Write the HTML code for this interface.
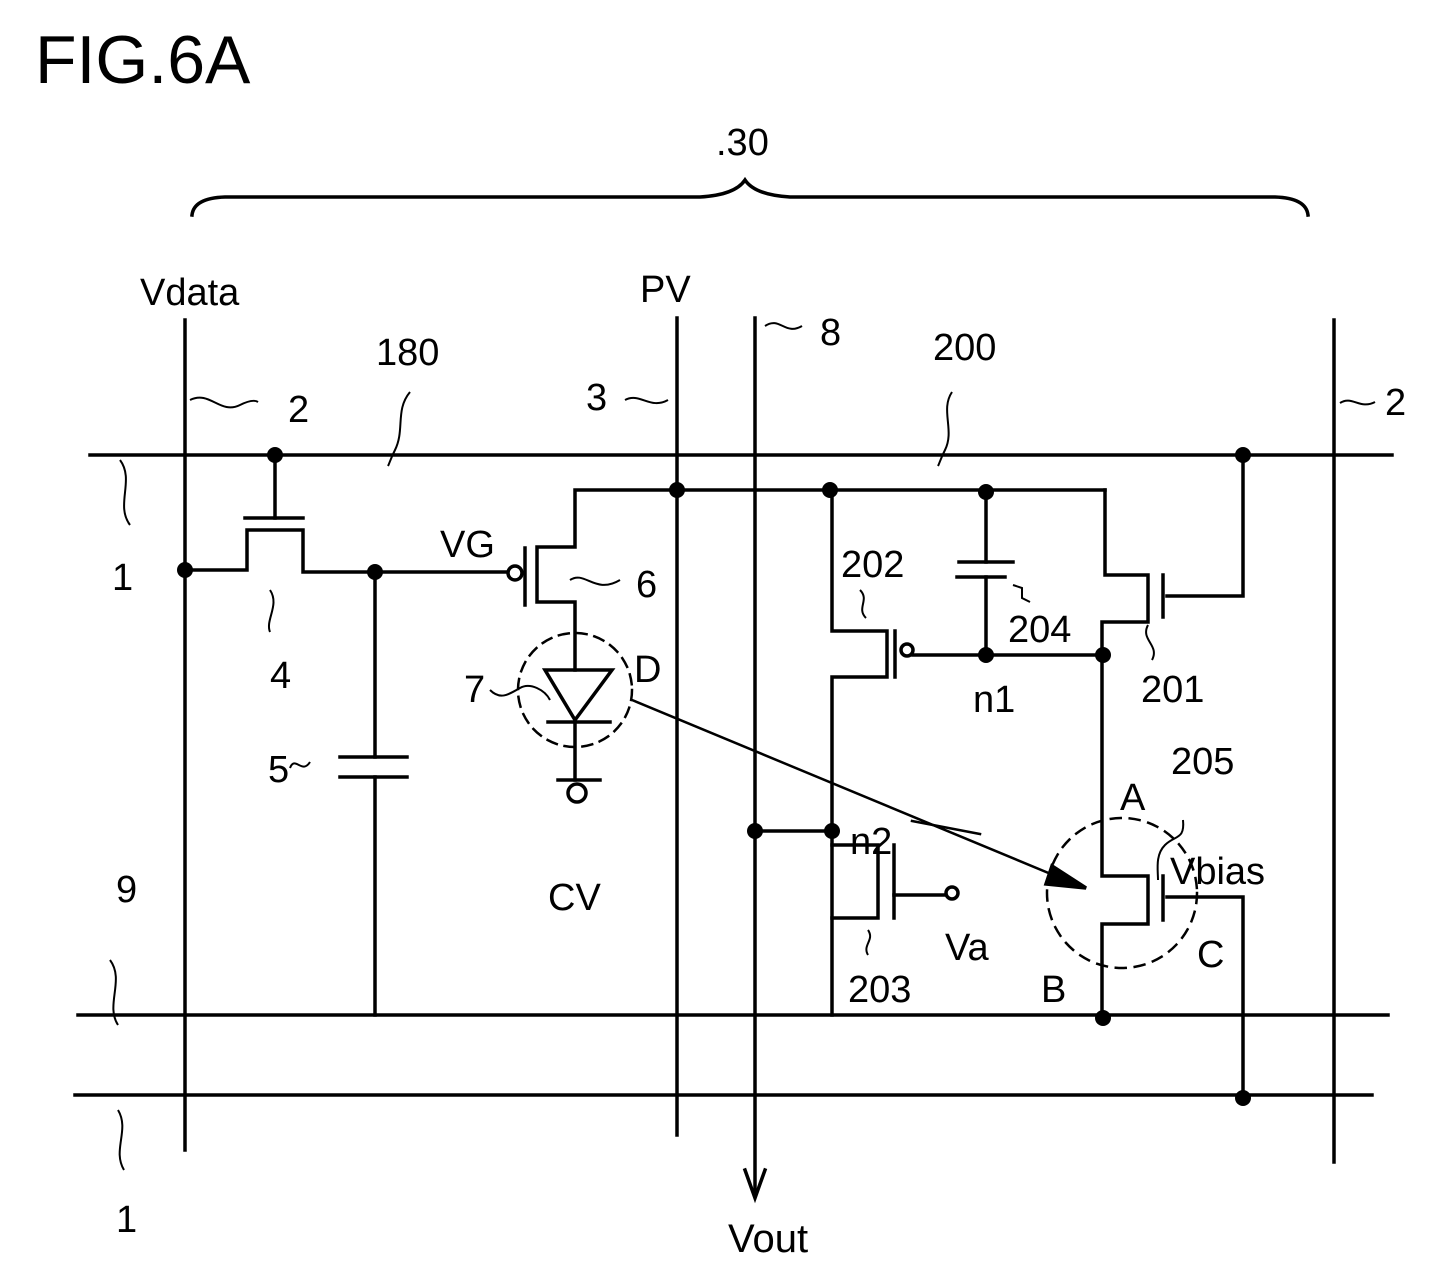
<!DOCTYPE html>
<html><head><style>
html,body{margin:0;padding:0;background:#fff;}
svg{display:block;}
text{font-family:"Liberation Sans",Arial,sans-serif;fill:#000;}
</style></head><body>
<svg width="1453" height="1264" viewBox="0 0 1453 1264" xmlns="http://www.w3.org/2000/svg">
<g stroke="#000" stroke-width="3.5" fill="none" stroke-linecap="square">
<path d="M192,215 Q194,198 225,197 L700,197 Q735,195 745,180 Q755,195 790,197 L1275,197 Q1306,198 1308,215"/>
<line x1="90" y1="455" x2="1392" y2="455"/>
<line x1="78" y1="1015" x2="1388" y2="1015"/>
<line x1="75" y1="1095" x2="1372" y2="1095"/>
<line x1="185" y1="320" x2="185" y2="1150"/>
<line x1="677" y1="318" x2="677" y2="1135"/>
<line x1="755" y1="318" x2="755" y2="1195"/>
<path d="M745,1170 L755,1198 L765,1170"/>
<line x1="1334" y1="320" x2="1334" y2="1162"/>
<line x1="275" y1="455" x2="275" y2="518"/>
<line x1="245" y1="518" x2="303" y2="518"/>
<path d="M185,570 L247,570 L247,530 L303,530 L303,572 L507,572"/>
<line x1="375" y1="572" x2="375" y2="757"/>
<line x1="340" y1="757" x2="407" y2="757"/>
<line x1="340" y1="777" x2="407" y2="777"/>
<line x1="375" y1="777" x2="375" y2="1015"/>
<circle cx="515" cy="573" r="7"/>
<line x1="525" y1="548" x2="525" y2="605"/>
<path d="M1105,490 L575,490 L575,547 L537,547 L537,602 L575,602 L575,670"/>
<path d="M545,670 L612,670 L575,720 Z"/>
<line x1="548" y1="722" x2="610" y2="722"/>
<line x1="575" y1="722" x2="575" y2="780"/>
<line x1="558" y1="780" x2="600" y2="780"/>
<circle cx="577" cy="793" r="9"/>
<circle cx="575" cy="690" r="57" stroke-dasharray="10,8" stroke-width="2.5"/>
<path d="M832,490 L832,631 L887,631 L887,677 L832,677 L832,1015"/>
<line x1="895" y1="631" x2="895" y2="677"/>
<circle cx="907" cy="650" r="6"/>
<line x1="913" y1="655" x2="1105" y2="655"/>
<line x1="986" y1="490" x2="986" y2="562"/>
<line x1="959" y1="562" x2="1013" y2="562"/>
<line x1="957" y1="577" x2="1005" y2="577"/>
<line x1="986" y1="577" x2="986" y2="655"/>
<path d="M1105,490 L1105,575 L1148,575 L1148,622 L1102,622 L1102,876 L1148,876 L1148,924 L1102,924 L1102,1015"/>
<line x1="1163" y1="575" x2="1163" y2="617"/>
<path d="M1167,596 L1243,596 L1243,455"/>
<line x1="1163" y1="876" x2="1163" y2="920"/>
<path d="M1167,897 L1243,897 L1243,1095"/>
<circle cx="1122" cy="893" r="75" stroke-dasharray="10,9" stroke-width="2.5"/>
<line x1="755" y1="831" x2="832" y2="831"/>
<path d="M832,845 L878,845 L878,918 L832,918"/>
<line x1="894" y1="845" x2="894" y2="918"/>
<line x1="894" y1="895" x2="945" y2="895"/>
<circle cx="952" cy="893" r="6"/>
<line x1="632" y1="700" x2="1075" y2="884" stroke-width="2.5"/>
<path d="M1052,866 L1086,888 L1046,884 Z" fill="#000"/>
<path d="M912,821 L980,834" stroke-width="2.5"/>
</g>
<g fill="#000">
<circle cx="275" cy="455" r="8"/><circle cx="185" cy="570" r="8"/><circle cx="375" cy="572" r="8"/>
<circle cx="677" cy="490" r="8"/><circle cx="830" cy="490" r="8"/><circle cx="986" cy="492" r="8"/>
<circle cx="1243" cy="455" r="8"/><circle cx="986" cy="655" r="8"/><circle cx="1103" cy="655" r="8"/>
<circle cx="755" cy="831" r="8"/><circle cx="832" cy="831" r="8"/>
<circle cx="1103" cy="1018" r="8"/><circle cx="1243" cy="1098" r="8"/>
</g>
<g stroke="#000" stroke-width="2" fill="none">
<path d="M190,400 C210,390 220,415 240,405 C250,400 255,400 258,402"/>
<path d="M410,392 C395,410 405,430 395,450 C390,460 390,462 388,466"/>
<path d="M120,460 C135,480 115,505 130,525"/>
<path d="M952,392 C940,410 955,430 945,450 C940,460 940,462 938,466"/>
<path d="M1340,403 C1352,395 1360,410 1375,402"/>
<path d="M765,326 C780,316 785,336 802,326"/>
<path d="M625,400 C640,392 650,410 668,400"/>
<path d="M270,590 C280,605 265,620 270,632"/>
<path d="M290,768 C295,755 302,775 310,762"/>
<path d="M570,580 C585,570 595,595 620,580"/>
<path d="M490,690 C500,700 508,695 520,688 C530,682 545,690 550,700"/>
<path d="M860,590 C870,600 856,608 866,618"/>
<path d="M1013,585 L1022,588 L1022,598 L1030,602"/>
<path d="M1148,625 C1140,640 1160,645 1152,660"/>
<path d="M1183,820 C1185,840 1175,835 1165,845 C1155,855 1158,870 1158,880"/>
<path d="M868,930 C875,940 862,945 868,955"/>
<path d="M110,960 C125,980 105,1005 118,1025"/>
<path d="M118,1110 C130,1130 112,1150 124,1170"/>
</g>
<g font-size="38">
<text x="35" y="83" font-size="68">FIG.6A</text>
<text x="716" y="155">.30</text>
<text x="140" y="305">Vdata</text>
<text x="640" y="302">PV</text>
<text x="820" y="345">8</text>
<text x="376" y="365">180</text>
<text x="933" y="360">200</text>
<text x="288" y="422">2</text>
<text x="586" y="410">3</text>
<text x="1385" y="415">2</text>
<text x="112" y="590">1</text>
<text x="440" y="557">VG</text>
<text x="636" y="597">6</text>
<text x="270" y="688">4</text>
<text x="464" y="702">7</text>
<text x="634" y="682">D</text>
<text x="268" y="782">5</text>
<text x="548" y="910">CV</text>
<text x="841" y="577">202</text>
<text x="1008" y="642">204</text>
<text x="973" y="712">n1</text>
<text x="1141" y="702">201</text>
<text x="1171" y="774">205</text>
<text x="1120" y="810">A</text>
<text x="850" y="854">n2</text>
<text x="1170" y="884">Vbias</text>
<text x="945" y="960">Va</text>
<text x="1197" y="967">C</text>
<text x="848" y="1002">203</text>
<text x="1041" y="1002">B</text>
<text x="116" y="902">9</text>
<text x="116" y="1232">1</text>
<text x="728" y="1252" font-size="40">Vout</text>
</g>
</svg>
</body></html>
